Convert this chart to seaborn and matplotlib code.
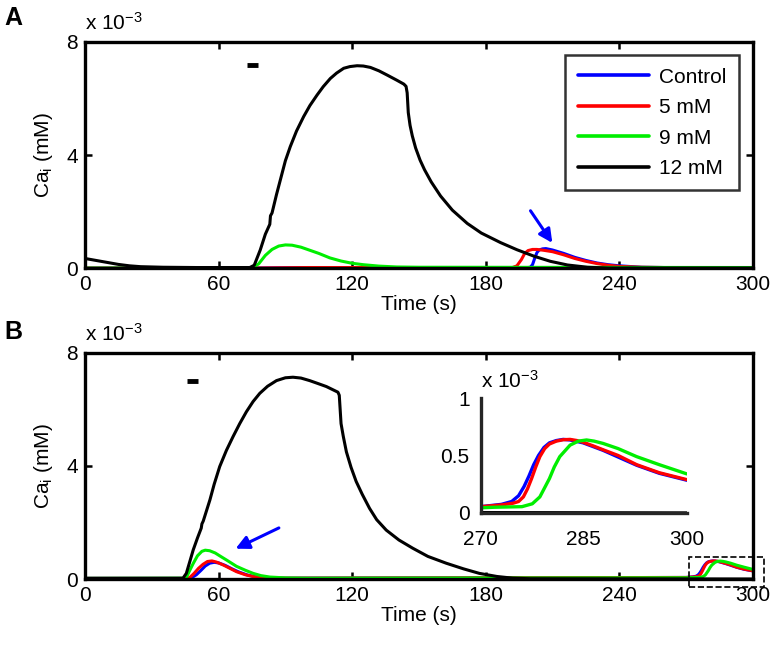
import numpy as np
import pandas as pd
import matplotlib
matplotlib.use("Agg")
import matplotlib.pyplot as plt
import seaborn as sns
from matplotlib.patches import Rectangle

# ---- data (Ca_i in units of 1e-3 mM) ----
series_names = ["Control", "5 mM", "9 mM", "12 mM"]
series_colors = ["#0000ff", "#ff0000", "#00ee00", "#000000"]

# Panel A
tA_ctrl = [0, 75, 100, 150, 199, 200, 201, 202, 203, 204, 205.5, 207, 210, 215, 220, 225, 230, 235, 240, 250, 260, 300]
vA_ctrl = [0, 0.0, 0.02, 0.02, 0.02, 0.03, 0.12, 0.35, 0.55, 0.64, 0.68, 0.69, 0.64, 0.52, 0.38, 0.27, 0.18, 0.12, 0.08, 0.03, 0.02, 0.02]
tA_5 = [0, 75, 100, 150, 192, 194, 196, 197.5, 199, 201, 203, 206, 210, 215, 220, 225, 230, 235, 240, 250, 260, 300]
vA_5 = [0, 0.0, 0.02, 0.02, 0.02, 0.08, 0.3, 0.52, 0.62, 0.66, 0.66, 0.63, 0.58, 0.47, 0.34, 0.24, 0.16, 0.1, 0.06, 0.03, 0.02, 0.02]
tA_9 = [0, 75, 78, 81, 84, 87, 90, 93, 97, 101, 105, 110, 115, 120, 125, 132, 140, 150, 300]
vA_9 = [0, 0.01, 0.15, 0.45, 0.66, 0.78, 0.82, 0.81, 0.74, 0.63, 0.52, 0.36, 0.25, 0.17, 0.12, 0.07, 0.04, 0.03, 0.02]
tA_12 = [0, 5, 10, 15, 20, 25, 35, 50, 74, 76, 78.7, 81, 83.0, 83.3, 84, 86, 88, 90, 92.2, 95, 98.2, 101,
         104.2, 107, 110.2, 113, 116.2, 119, 122.2, 125, 128.2, 132, 135.7, 140, 143.2, 144.2, 144.7, 145.2,
         146, 147, 148.5, 150.5, 152.5, 155.5, 159.7, 165, 171.7, 178, 186.7, 194, 201.7, 209, 216.7, 225.7, 235, 300]
vA_12 = [0.34, 0.27, 0.2, 0.13, 0.08, 0.05, 0.03, 0.02, 0.02, 0.1, 0.64, 1.2, 1.55, 1.85, 1.95, 2.6, 3.2, 3.8, 4.3, 4.85, 5.36, 5.75,
         6.12, 6.42, 6.71, 6.9, 7.07, 7.13, 7.16, 7.15, 7.1, 6.98, 6.83, 6.65, 6.51, 6.43, 6.2, 5.5,
         5.05, 4.68, 4.25, 3.82, 3.48, 3.05, 2.55, 2.05, 1.58, 1.24, 0.9, 0.65, 0.42, 0.24, 0.11, 0.03, 0.0, 0.0]

# Panel B
tB_ctrl = [0, 46, 48, 50, 52, 54, 56, 58, 60, 63, 66, 69, 73, 77, 83, 90, 270, 273, 274.5, 275.5, 276.3, 277, 277.7,
           278.4, 279.2, 280, 281, 282, 283, 284.9, 287.8, 292.7, 296, 300]
vB_ctrl = [0, 0, 0.05, 0.15, 0.3, 0.46, 0.56, 0.59, 0.57, 0.48, 0.36, 0.25, 0.14, 0.07, 0.04, 0.03, 0.055, 0.075, 0.1, 0.15, 0.23, 0.32, 0.42,
           0.5, 0.57, 0.61, 0.63, 0.64, 0.635, 0.61, 0.545, 0.415, 0.345, 0.285]
tB_5 = [0, 45, 47, 49, 51, 53, 55, 57, 59, 62, 65, 68, 72, 76, 82, 90, 270, 273, 274.7, 275.5, 276.2, 276.8, 277.4, 278,
        278.6, 279.3, 280, 281, 282, 283, 284, 284.9, 286.3, 287.8, 290, 292.7, 296, 300]
vB_5 = [0, 0, 0.05, 0.2, 0.38, 0.52, 0.62, 0.64, 0.6, 0.5, 0.38, 0.26, 0.15, 0.08, 0.04, 0.03, 0.055, 0.07, 0.085, 0.1, 0.14, 0.21, 0.3, 0.4,
        0.49, 0.56, 0.6, 0.625, 0.637, 0.64, 0.63, 0.615, 0.585, 0.55, 0.5, 0.42, 0.35, 0.29]
tB_9 = [0, 44, 45.5, 47, 48.6, 50.5, 52.5, 54, 56, 58.5, 60.5, 64, 68, 72, 75.5, 79, 83, 90, 100, 270, 272, 276, 277.5,
        278.6, 279.3, 280, 280.7, 281.5, 283, 284.2, 285.4, 286.5, 287.8, 290, 292.7, 296, 300]
vB_9 = [0.02, 0.03, 0.05, 0.3, 0.55, 0.82, 0.98, 1.02, 1.0, 0.92, 0.82, 0.65, 0.45, 0.31, 0.2, 0.12, 0.07, 0.04, 0.03, 0.045, 0.05, 0.055, 0.08,
        0.14, 0.22, 0.3, 0.4, 0.49, 0.59, 0.625, 0.635, 0.625, 0.605, 0.56, 0.49, 0.42, 0.34]
tB_12 = [0, 44, 45.5, 47, 48.6, 50.5, 52.2, 52.5, 53.1, 56.1, 58, 60.5, 63.5, 66.5, 69.5, 72.5, 75.5, 78.5, 82, 86, 90,
         93.4, 97, 100.9, 104.5, 108.4, 111, 113.6, 114.2, 114.6, 115.0, 116, 117.4, 119.5, 121.8, 124.5, 127.8, 131,
         135.3, 141, 147.2, 154, 162.2, 170, 177.1, 185, 192.1, 200, 300]
vB_12 = [0.03, 0.03, 0.2, 0.6, 1.03, 1.45, 1.8, 1.95, 2.05, 2.8, 3.35, 3.98, 4.55, 5.04, 5.5, 5.92, 6.28, 6.57, 6.82, 7.02, 7.12,
         7.14, 7.11, 7.02, 6.92, 6.81, 6.71, 6.61, 6.5, 6.0, 5.5, 5.05, 4.5, 3.95, 3.45, 3.0, 2.5, 2.1,
         1.73, 1.38, 1.09, 0.8, 0.56, 0.36, 0.20, 0.09, 0.03, 0.01, 0.0]

x_ticks = [0, 60, 120, 180, 240, 300]
y_ticks = [0, 4, 8]
inset_x_ticks = [270, 285, 300]
inset_y_ticks = [0, 0.5, 1]


def long_df(ts, vs):
    frames = []
    for name, t, v in zip(series_names, ts, vs):
        frames.append(pd.DataFrame({"t": t, "v": v, "series": name}))
    return pd.concat(frames, ignore_index=True)


dfA = long_df([tA_ctrl, tA_5, tA_9, tA_12], [vA_ctrl, vA_5, vA_9, vA_12])
dfB = long_df([tB_ctrl, tB_5, tB_9, tB_12], [vB_ctrl, vB_5, vB_9, vB_12])
palette = dict(zip(series_names, series_colors))

sns.set_style("white")
plt.rcParams["font.family"] = ["Liberation Sans", "DejaVu Sans"]
plt.rcParams["mathtext.default"] = "regular"
for key in ["text.color", "axes.labelcolor", "xtick.color", "ytick.color"]:
    plt.rcParams[key] = "black"

fig = plt.figure(figsize=(7.73, 6.46), dpi=100)
axA = fig.add_axes([0.110, 0.585, 0.864, 0.350])
axB = fig.add_axes([0.110, 0.1037, 0.864, 0.350])

fs = 15


def style_main(ax):
    ax.set_xlim(0, 300)
    ax.set_ylim(0, 8)
    ax.set_xticks(x_ticks)
    ax.set_yticks(y_ticks)
    ax.tick_params(direction="in", length=5, width=1.8, labelsize=fs, top=True, right=True,
                   bottom=True, left=True, pad=5)
    for s in ax.spines.values():
        s.set_linewidth(2.4)
        s.set_color("black")
    ax.set_xlabel("Time (s)", fontsize=fs, labelpad=1)
    ax.set_ylabel("Ca$_{i}$ (mM)", fontsize=fs, labelpad=8)
    ax.text(0.0, 1.035, r"x 10$^{-3}$", transform=ax.transAxes, fontsize=fs, va="bottom", ha="left")


for ax, df in [(axA, dfA), (axB, dfB)]:
    sns.lineplot(data=df, x="t", y="v", hue="series", hue_order=series_names, palette=palette,
                 estimator=None, linewidth=2.2, ax=ax, legend=(ax is axA))
    style_main(ax)

leg = axA.legend(loc="upper right", bbox_to_anchor=(0.979, 0.942), borderaxespad=0, fontsize=fs,
                 frameon=True, fancybox=False, handlelength=3.4, labelspacing=0.55, borderpad=0.6,
                 handletextpad=0.5)
leg.get_frame().set_edgecolor("black")
leg.get_frame().set_linewidth(1.8)
for h in leg.get_lines():
    h.set_linewidth(2.6)

# stimulus markers
axA.plot([72.9, 77.8], [7.2, 7.2], color="black", lw=3.5, solid_capstyle="butt")
axB.plot([45.6, 50.8], [7.02, 7.02], color="black", lw=3.5, solid_capstyle="butt")

# arrows
arrow_kw = dict(arrowstyle="-|>", color="#0000ff", lw=2.2, mutation_scale=20)
axA.annotate("", xy=(210.6, 0.81), xytext=(199.4, 2.11), arrowprops=arrow_kw)
axB.annotate("", xy=(66.5, 1.03), xytext=(88.2, 1.85), arrowprops=arrow_kw)

# dashed zoom box
axB.add_patch(Rectangle((271.3, -0.28), 33.7, 1.06, fill=False, ls="--", lw=1.2,
                        edgecolor="black", clip_on=False, zorder=5))

# panel letters
fig.text(0.006, 0.972, "A", fontsize=18, fontweight="bold", va="center", ha="left")
fig.text(0.006, 0.486, "B", fontsize=18, fontweight="bold", va="center", ha="left")

# inset
axI = fig.add_axes([0.622, 0.2059, 0.2665, 0.178])
sns.lineplot(data=dfB, x="t", y="v", hue="series", hue_order=series_names, palette=palette,
             estimator=None, linewidth=2.4, ax=axI, legend=False)
axI.set_xlim(270, 300)
axI.set_ylim(0, 1)
axI.set_xticks(inset_x_ticks)
axI.set_yticks(inset_y_ticks)
axI.set_yticklabels(["0", "0.5", "1"])
axI.set_xlabel("")
axI.set_ylabel("")
axI.patch.set_alpha(0)
axI.spines["top"].set_visible(False)
axI.spines["right"].set_visible(False)
axI.spines["left"].set_linewidth(2.4)
axI.spines["bottom"].set_linewidth(2.4)
axI.tick_params(axis="both", direction="in", length=0, labelsize=fs)
axI.tick_params(axis="x", pad=12)
axI.tick_params(axis="y", pad=8)
axI.text(0.0, 1.05, r"x 10$^{-3}$", transform=axI.transAxes, fontsize=fs, va="bottom", ha="left")

fig.savefig("out.png", dpi=100)
